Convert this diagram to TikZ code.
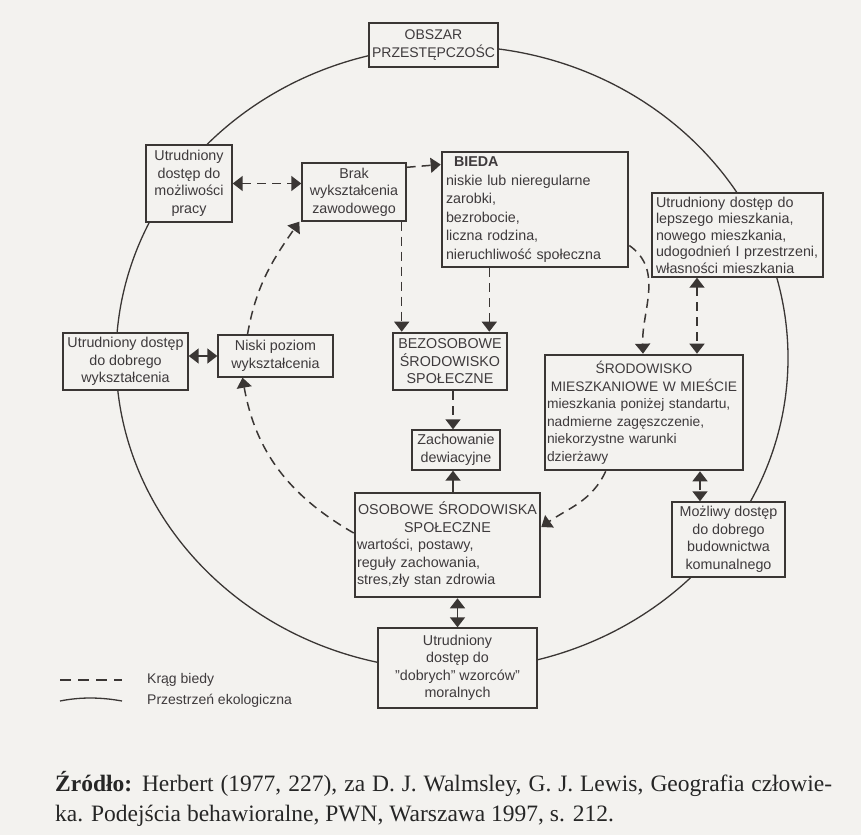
\documentclass[tikz,border=0pt]{standalone}
\usepackage{fontspec}
\setmainfont{Liberation Sans}
\newfontfamily\srcfont{Liberation Serif}
\usetikzlibrary{arrows.meta,calc}
\definecolor{paper}{HTML}{F3F2EF}
\definecolor{ink}{HTML}{3A3634}
\definecolor{txt}{HTML}{3E3A3C}
\tikzset{
  box/.style={draw=ink, line width=1.4pt, fill=paper, text=txt, inner sep=2pt,
    font=\fontsize{14.3}{17.5}\selectfont, align=center},
  tbox/.style={box, line width=2.6pt},
  krag/.style={draw=ink, line width=1.5pt, dash pattern=on 9pt off 6pt},
  solidarr/.style={draw=ink, line width=1.5pt},
  tip/.style={-{Triangle[width=15pt,length=10pt]}},
  tips/.style={{Triangle[width=15pt,length=10pt]}-{Triangle[width=15pt,length=10pt]}},
  eco/.style={draw=ink, line width=1.3pt},
  legend/.style={text=txt, font=\fontsize{14}{17}\selectfont, inner sep=0pt},
}
\begin{document}
\begin{tikzpicture}[x=1pt,y=-1pt]
\fill[paper] (0,0) rectangle (861,835);
\useasboundingbox (0,0) rectangle (861,835);

% ecological space (outer ring)
\draw[eco] (452,358) ellipse [x radius=336pt, y radius=312pt];

% boxes
\node[tbox, minimum width=129pt, minimum height=44pt, font=\fontsize{14}{17.5}\selectfont] (obszar) at (433.5,45) {OBSZAR\\PRZESTĘPCZOŚC};
\node[box, minimum width=86pt, minimum height=77pt] (praca) at (189,183.5) {Utrudniony\\dostęp do\\możliwości\\pracy};
\node[box, minimum width=104pt, minimum height=58pt] (brak) at (354,192) {Brak\\wykształcenia\\zawodowego};
\node[tbox, minimum width=186pt, minimum height=115pt, text width=178pt, align=left,
      font=\fontsize{14.3}{18.5}\selectfont] (bieda) at (535,209.5)
  {\hspace*{8pt}\textbf{BIEDA}\\niskie lub nieregularne\\zarobki,\\bezrobocie,\\liczna rodzina,\\nieruchliwość społeczna};
\node[box, minimum width=171pt, minimum height=84pt, text width=163pt, align=left,
      font=\fontsize{14.3}{16.5}\selectfont] (lepsze) at (737.5,235)
  {Utrudniony dostęp do\\lepszego mieszkania,\\nowego mieszkania,\\udogodnień I przestrzeni,\\własności mieszkania};
\node[box, minimum width=125pt, minimum height=57pt] (dobre) at (125.5,361.5) {Utrudniony dostęp\\do dobrego\\wykształcenia};
\node[box, minimum width=115pt, minimum height=42pt] (niski) at (275.5,356) {Niski poziom\\wykształcenia};
\node[tbox, minimum width=114pt, minimum height=57pt] (bezos) at (450,361.5) {BEZOSOBOWE\\ŚRODOWISKO\\SPOŁECZNE};
\node[box, minimum width=88pt, minimum height=40pt] (zach) at (456,450) {Zachowanie\\dewiacyjne};
\node[tbox, minimum width=198pt, minimum height=115pt, text width=194pt, inner sep=1pt, align=left,
      font=\fontsize{13.8}{17.5}\selectfont] (mieszk) at (644,412.5)
  {{\centering ŚRODOWISKO\\MIESZKANIOWE W MIEŚCIE\par}mieszkania poniżej standartu,\\nadmierne zagęszczenie,\\niekorzystne warunki\\dzierżawy};
\node[tbox, minimum width=185pt, minimum height=104pt, text width=181pt, align=left] (osob) at (447.5,545)
  {{\centering OSOBOWE ŚRODOWISKA\\SPOŁECZNE\par}wartości, postawy,\\reguły zachowania,\\stres,zły stan zdrowia};
\node[box, minimum width=113pt, minimum height=75pt] (mozliwy) at (728.5,539.5) {Możliwy dostęp\\do dobrego\\budownictwa\\komunalnego};
\node[box, minimum width=159pt, minimum height=80pt] (wzorce) at (457.5,668) {Utrudniony\\dostęp do\\"dobrych" wzorców"\\moralnych};

% helper coordinates
\coordinate (bz1) at ($(bezos.north west)+(10,0)$);
\coordinate (bz2) at ($(bezos.north east)+(-19,0)$);
\coordinate (zt) at ($(zach.north)+(-3,0)$);
\coordinate (mt) at ($(mieszk.north)+(53,0)$);
\coordinate (mb) at ($(mieszk.south)+(56,0)$);

% circle of poverty (dashed)
\draw[krag,tips] (praca.east) -- (praca.east -| brak.west);
\draw[krag,tip] ($(brak.north east)+(0,5)$) -- ($(bieda.west)+(0,-45)$);
\draw[krag,tip] (brak.south -| bz1) -- (bz1);
\draw[krag,tip] (bieda.south -| bz2) -- (bz2);
\draw[krag,tip] (bezos.south -| zt) -- (zt);
\draw[solidarr,tip] (osob.north -| zt) -- (zach.south -| zt);
\draw[krag,tips] (lepsze.south -| mt) -- (mt);
\draw[krag,tips] (mb) -- (mb |- mozliwy.north);
\draw[solidarr,tips] (dobre.east |- niski.west) -- (niski.west);
\draw[solidarr,tips] (wzorce.north |- osob.south) -- (wzorce.north);

\draw[krag,tip] ($(niski.north)+(-28,0)$) to[out=80,in=-125] ($(brak.south west)+(-2,0)$);
\draw[krag,tip] ($(bieda.east)+(0,36)$) to[out=-35,in=92] ($(mieszk.north)+(-1,0)$);
\draw[krag,tip] ($(mieszk.south west)+(62,0)$) to[out=-115,in=35] ($(osob.east)+(0,-18)$);
\draw[krag,tip] ($(osob.west)+(0,-12)$) to[out=150,in=-80] ($(niski.south)+(-33,0)$);

% legend
\coordinate (l1a) at (60,680);
\coordinate (l1b) at (122,680);
\coordinate (l2a) at (60,701);
\coordinate (l2b) at (122,701);
\draw[draw=ink, line width=1.3pt, dash pattern=on 11pt off 7pt] (l1a) -- (l1b);
\draw[eco] (l2a) .. controls (80,697) and (100,697) .. (l2b);
\node[legend, anchor=west] (lk) at (147,680) {Krąg biedy};
\node[legend, anchor=west] (lp) at (147,701) {Przestrzeń ekologiczna};

% source
\node[anchor=base west, inner sep=0pt, text=black!85, font=\srcfont\fontsize{23.5}{30}\selectfont] (src1) at (55,791)
  {\makebox[777pt][s]{\textbf{Źródło:} Herbert (1977, 227), za D. J. Walmsley, G. J. Lewis, Geografia człowie-}};
\node[anchor=base west, inner sep=0pt, text=black!85, font=\srcfont\fontsize{23.5}{30}\selectfont] (src2) at (55,821)
  {ka. Podejścia behawioralne, PWN, Warszawa 1997, s. 212.};
\end{tikzpicture}
\end{document}
